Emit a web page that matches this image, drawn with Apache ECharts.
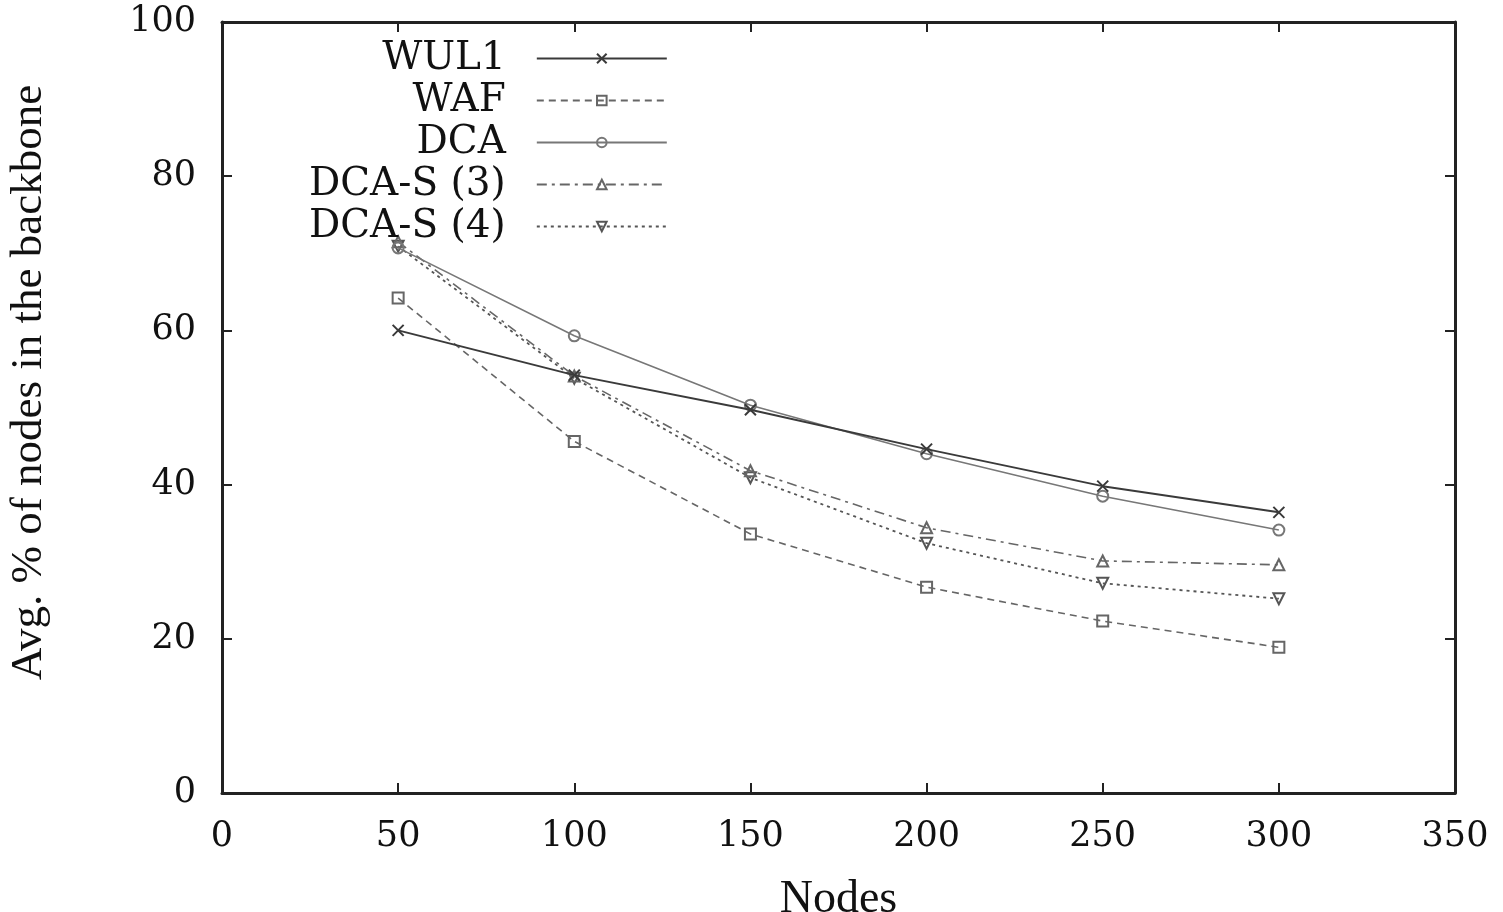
<!DOCTYPE html>
<html>
<head>
<meta charset="utf-8">
<script src="https://cdn.jsdelivr.net/npm/echarts@6/dist/echarts.min.js"></script>
<style>
  html, body { margin: 0; padding: 0; background: #fff; }
  #chart { width: 1503px; height: 912px; }
</style>
</head>
<body>
<div id="chart"></div>
<script>
// 数据
const nodes = [50, 100, 150, 200, 250, 300];
const seriesNames = ['WUL1', 'WAF', 'DCA', 'DCA-S (3)', 'DCA-S (4)'];
const wul1 = [60.0, 54.2, 49.7, 44.6, 39.8, 36.4];
const waf = [64.2, 45.6, 33.6, 26.7, 22.3, 18.9];
const dca = [70.7, 59.3, 50.3, 44.0, 38.5, 34.1];
const dcaS3 = [71.5, 54.1, 41.8, 34.4, 30.1, 29.6];
const dcaS4 = [70.9, 53.8, 40.9, 32.4, 27.2, 25.2];

const SERIF = '"DejaVu Serif", serif';
const TITLE_FONT = '"Liberation Serif", serif';

const pairs = vals => vals.map((v, i) => [nodes[i], v]);

// 样式
const styles = [
  { data: wul1, symbol: 'path://M0,0L10,10M10,0L0,10', lineType: 'solid', color: '#3a3a3a', width: 2 },
  { data: waf, symbol: 'rect', lineType: [7, 5], color: '#666', width: 1.6 },
  { data: dca, symbol: 'circle', lineType: 'solid', color: '#777', width: 1.6 },
  { data: dcaS3, symbol: 'triangle', lineType: [10, 5, 3, 5], color: '#666', width: 1.6 },
  { data: dcaS4, symbol: 'path://M0,0L10,0L5,9Z', lineType: [3, 4], color: '#555', width: 1.8 }
];

const series = styles.map((s, i) => ({
  name: seriesNames[i],
  type: 'line',
  data: pairs(s.data),
  symbol: s.symbol,
  symbolSize: 11,
  lineStyle: { type: s.lineType, color: s.color, width: s.width },
  itemStyle: { color: 'rgba(255,255,255,0)', borderColor: s.color, borderWidth: 2 },
  z: 5 - i
}));

const axisLine = { show: true, onZero: false, lineStyle: { color: '#222', width: 3 } };
const axisTick = { show: true, inside: true, length: 10, lineStyle: { color: '#222', width: 2 } };
const tickLabel = { fontFamily: SERIF, fontSize: 35, color: '#111', margin: 26 };

const chart = echarts.init(document.getElementById('chart'));
chart.setOption({
  animation: false,
  backgroundColor: '#fff',
  grid: { left: 222, right: 48, top: 22, bottom: 119, outerBoundsMode: 'none' },
  legend: {
    orient: 'vertical',
    align: 'right',
    left: 309,
    top: 39,
    padding: 0,
    itemWidth: 130,
    itemHeight: 12,
    itemGap: 3,
    data: seriesNames,
    textStyle: {
      fontFamily: SERIF,
      fontSize: 39,
      color: '#111',
      lineHeight: 39,
      padding: [0, 26, 0, 0]
    }
  },
  xAxis: [{
    type: 'value',
    min: 0,
    max: 350,
    interval: 50,
    name: 'Nodes',
    nameLocation: 'middle',
    nameGap: 84,
    nameTextStyle: { fontFamily: TITLE_FONT, fontSize: 46, color: '#111' },
    axisLine: axisLine,
    axisTick: axisTick,
    axisLabel: tickLabel,
    splitLine: { show: false }
  }, {
    type: 'value',
    position: 'top',
    min: 0,
    max: 350,
    interval: 50,
    axisLine: axisLine,
    axisTick: axisTick,
    axisLabel: { show: false },
    splitLine: { show: false }
  }],
  yAxis: [{
    type: 'value',
    min: 0,
    max: 100,
    interval: 20,
    name: 'Avg. % of nodes in the backbone',
    nameLocation: 'middle',
    nameGap: 170,
    nameTextStyle: { fontFamily: TITLE_FONT, fontSize: 45, color: '#111', padding: [0, 0, 0, 50] },
    axisLine: axisLine,
    axisTick: axisTick,
    axisLabel: tickLabel,
    splitLine: { show: false }
  }, {
    type: 'value',
    position: 'right',
    min: 0,
    max: 100,
    interval: 20,
    axisLine: axisLine,
    axisTick: axisTick,
    axisLabel: { show: false },
    splitLine: { show: false }
  }],
  series: series
});
</script>
</body>
</html>
